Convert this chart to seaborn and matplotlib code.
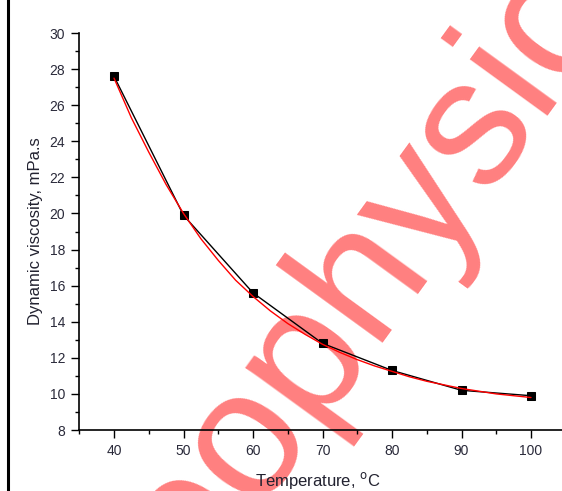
import matplotlib
matplotlib.use("Agg")
import matplotlib.pyplot as plt
from matplotlib.patches import Rectangle
from matplotlib.ticker import MultipleLocator
import pandas as pd
import seaborn as sns

# measured points (black squares)
temperature = [40, 50, 60, 70, 80, 90, 100]
viscosity = [27.6, 19.9, 15.6, 12.8, 11.3, 10.2, 9.9]

# red fitted curve
fit_temperature = [40, 42.5, 45, 47.5, 50, 52.5, 55, 57.5, 60, 62.5, 65, 67.5, 70,
                   72.5, 75, 77.5, 80, 82.5, 85, 87.5, 90, 92.5, 95, 97.5, 100]
fit_viscosity = [27.5, 25.3, 23.4, 21.6, 20.0, 18.6, 17.4, 16.3, 15.4, 14.6, 13.9, 13.3, 12.75,
                 12.3, 11.9, 11.55, 11.25, 10.95, 10.7, 10.5, 10.3, 10.15, 10.0, 9.9, 9.8]

x_ticks = [40, 50, 60, 70, 80, 90, 100]
y_ticks = [8, 10, 12, 14, 16, 18, 20, 22, 24, 26, 28, 30]

watermark = "Geophysics"

sns.set_theme(style="ticks")
plt.rcParams["font.family"] = ["Liberation Sans", "DejaVu Sans"]

W, H = 562, 491


def make_chart():
    fig = plt.figure(figsize=(W / 100, H / 100), dpi=100)
    fig.patch.set_facecolor("white")
    ax = fig.add_axes([79.25 / W, 61 / H, 486.5 / W, 397 / H])
    ax.patch.set_alpha(0)
    ax.set_zorder(2)

    measured = pd.DataFrame({"t": temperature, "v": viscosity})
    fitted = pd.DataFrame({"t": fit_temperature, "v": fit_viscosity})

    sns.lineplot(data=measured, x="t", y="v", color="black", linewidth=1.0,
                 marker="s", markersize=5.5, markeredgecolor="black", ax=ax,
                 estimator=None, zorder=3)
    sns.lineplot(data=fitted, x="t", y="v", color="red", linewidth=1.0, ax=ax,
                 estimator=None, zorder=4)

    ax.set_xlim(35, 105)
    ax.set_ylim(8, 30)
    ax.set_xticks(x_ticks)
    ax.set_yticks(y_ticks)
    ax.xaxis.set_minor_locator(MultipleLocator(5))
    ax.yaxis.set_minor_locator(MultipleLocator(1))
    ax.tick_params(which="major", direction="out", length=6, width=1, color="black",
                   labelsize=10, labelcolor="#2a2a3a", pad=4)
    ax.tick_params(which="minor", direction="out", length=3, width=1, color="black")

    sns.despine(ax=ax)
    for side in ["left", "bottom"]:
        ax.spines[side].set_linewidth(1.2)
        ax.spines[side].set_color("black")

    ax.set_xlabel("Temperature, $^{\\mathrm{o}}$C", fontsize=12, color="#222230")
    ax.set_ylabel("Dynamic viscosity, mPa.s", fontsize=12, color="#222230")
    ax.xaxis.set_label_coords(0.49, -0.126)
    ax.yaxis.set_label_coords(-0.09, 0.5)
    ax.xaxis.label.set_va("center")
    ax.yaxis.label.set_va("center")

    # frame of the original screenshot
    fig.patches.append(Rectangle((8 / W, -0.2), 1.2, 1.2 + (1 - 10 / H), transform=fig.transFigure,
                                 fill=False, linewidth=2.2, edgecolor="black", zorder=10))

    # watermark, sits under the plotted lines
    fig.text(352 / W, 1 - 292 / H, watermark, fontsize=130,
             color="red", alpha=0.5, rotation=54, ha="center", va="center",
             rotation_mode="anchor", zorder=1)

    fig.savefig("out.png", dpi=100, facecolor="white")


make_chart()
